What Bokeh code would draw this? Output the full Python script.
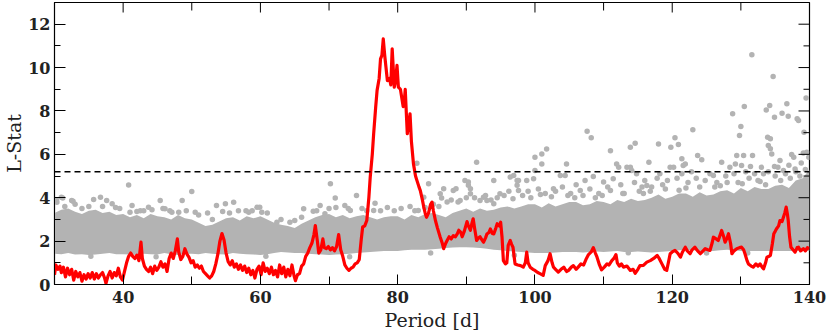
import math
from bokeh.plotting import figure
from bokeh.models import Range1d, FixedTicker, Span
from bokeh.embed import file_html
from bokeh.resources import INLINE

# ---------------- data ----------------
# red curve: Period [d] vs L-Stat
red_x = [30.0, 30.2, 30.5, 30.8, 31.0, 31.3, 31.6, 31.9, 32.2, 32.5, 32.8, 33.1, 33.4, 33.7, 34.0, 34.3, 34.6, 34.9,
         35.2, 35.5, 35.8, 36.1, 36.4, 36.7, 37.0, 37.3, 37.5, 37.8, 38.1, 38.4, 38.7, 39.0, 39.3, 39.6, 39.9, 40.2,
         40.5, 40.8, 41.1, 41.4, 41.7, 42.0, 42.3, 42.6, 42.8, 43.1, 43.4, 43.7, 44.0, 44.3, 44.6, 44.9, 45.2, 45.5,
         45.8, 46.1, 46.4, 46.7, 47.0, 47.3, 47.6, 47.9, 48.1, 48.4, 48.7, 49.0, 49.3, 49.6, 49.9, 50.2, 50.5, 50.8,
         51.1, 51.4, 51.7, 52.0, 52.3, 52.6, 52.9, 53.2, 53.5, 53.8, 54.1, 54.4, 54.7, 55.0, 55.3, 55.6, 55.9, 56.2,
         56.5, 56.8, 57.1, 57.4, 57.7, 58.0, 58.3, 58.6, 58.9, 59.2, 59.5, 59.8, 60.1, 60.4, 60.7, 61.0, 61.3, 61.6,
         61.9, 62.2, 62.5, 62.8, 63.1, 63.4, 63.7, 64.0, 64.3, 64.6, 64.9, 65.1, 65.4, 65.7, 66.0, 66.3, 66.6, 66.9,
         67.2, 67.5, 67.8, 68.0, 68.3, 68.5, 68.8, 69.1, 69.3, 69.6, 69.9, 70.2, 70.5, 70.8, 71.1, 71.4, 71.7, 72.0,
         72.3, 72.6, 72.9, 73.2, 73.5, 73.8, 74.1, 74.4, 74.7, 74.9, 75.2, 75.5, 75.8, 76.0, 76.3, 76.5, 76.8, 77.0,
         77.3, 77.5, 77.7, 77.9, 78.1, 78.3, 78.5, 78.8, 79.0, 79.2, 79.4, 79.5, 79.7, 79.9, 80.1, 80.4, 80.6, 80.8,
         81.0, 81.1, 81.4, 81.6, 81.8, 82.0, 82.3, 82.6, 82.8, 83.1, 83.3, 83.6, 83.8, 84.0, 84.2, 84.5, 84.8, 85.0,
         85.2, 85.5, 85.8, 86.2, 86.5, 86.7, 87.0, 87.2, 87.5, 87.8, 88.1, 88.4, 88.7, 88.9, 89.2, 89.4, 89.7, 90.1,
         90.3, 90.6, 90.8, 91.0, 91.2, 91.5, 91.8, 92.0, 92.3, 92.5, 92.8, 93.0, 93.3, 93.5, 93.8, 94.0, 94.3, 94.5,
         94.8, 95.0, 95.2, 95.4, 95.7, 95.9, 96.1, 96.4, 96.6, 96.8, 97.0, 97.1, 97.5, 97.9, 98.3, 98.6, 98.8, 99.0,
         99.3, 99.7, 100.0, 100.4, 100.8, 101.2, 101.5, 101.9, 102.2, 102.5, 102.7, 103.0, 103.4, 103.8, 104.2, 104.6,
         104.9, 105.3, 105.6, 106.0, 106.3, 106.7, 107.1, 107.5, 107.8, 108.2, 108.5, 108.8, 109.0, 109.4, 109.7,
         110.1, 110.5, 110.8, 111.2, 111.5, 111.8, 112.0, 112.3, 112.6, 112.9, 113.4, 113.9, 114.3, 114.6, 115.0,
         115.3, 115.8, 116.3, 116.8, 117.3, 117.8, 118.1, 118.5, 118.9, 119.2, 119.5, 119.7, 120.0, 120.4, 120.8,
         121.2, 121.5, 121.9, 122.2, 122.6, 122.9, 123.3, 123.7, 124.1, 124.5, 124.8, 125.2, 125.5, 125.8, 126.0,
         126.4, 126.7, 127.0, 127.2, 127.5, 127.7, 128.0, 128.2, 128.5, 128.7, 129.0, 129.4, 129.8, 130.1, 130.4,
         130.6, 130.9, 131.1, 131.5, 131.8, 132.2, 132.5, 132.8, 133.1, 133.3, 133.6, 133.8, 134.1, 134.3, 134.6,
         134.8, 135.0, 135.2, 135.5, 135.7, 136.0, 136.2, 136.4, 136.6, 136.8, 136.9, 137.1, 137.3, 137.6, 137.9,
         138.2, 138.4, 138.7, 139.1, 139.4, 139.7, 140.0]
red_y = [0.45, 0.9, 0.7, 0.85, 0.55, 0.8, 0.35, 0.75, 0.45, 0.7, 0.2, 0.6, 0.35, 0.55, 0.15, 0.45, 0.25, 0.5,
         0.3, 0.55, 0.25, 0.5, 0.3, 0.45, 0.55, 0.3, 0.05, 0.4, 0.6, 0.3, 0.55, 0.4, 0.75, 0.35, 0.2, 0.6,
         1.0, 1.3, 1.45, 1.3, 1.2, 1.35, 1.1, 1.95, 1.2, 0.85, 0.7, 0.6, 0.8, 0.5, 0.85, 0.65, 0.8, 1.05,
         0.8, 0.95, 0.6, 1.2, 1.45, 1.2, 1.55, 2.1, 1.5, 1.15, 1.3, 1.65, 1.4, 1.25, 1.0, 1.1, 0.8, 0.9,
         0.75, 0.85, 0.6, 0.5, 0.4, 0.3, 0.4, 0.6, 0.95, 1.4, 2.0, 2.35, 2.05, 1.45, 1.05, 0.9, 1.1, 0.8,
         0.95, 0.7, 0.9, 0.65, 0.85, 0.55, 0.75, 0.45, 0.65, 0.3, 0.7, 0.85, 0.45, 1.0, 0.6, 0.75, 0.5, 0.8,
         0.45, 0.65, 0.35, 0.9, 0.5, 0.8, 0.35, 0.7, 0.4, 0.9, 0.4, 0.18, 0.45, 0.5, 0.85, 0.95, 1.3, 1.45,
         1.7, 1.9, 2.3, 2.72, 2.0, 1.45, 1.6, 2.1, 1.7, 1.65, 1.75, 1.6, 1.7, 1.55, 1.75, 2.3, 1.6, 1.3,
         0.9, 0.75, 0.65, 0.75, 0.8, 0.95, 1.0, 1.15, 2.1, 2.65, 2.7, 2.95, 4.0, 4.95, 6.0, 6.95, 8.2, 8.95,
         9.5, 10.4, 10.56, 11.32, 10.6, 10.0, 9.4, 9.5, 9.2, 10.86, 9.7, 9.1, 9.4, 10.1, 9.1, 9.0, 8.6, 8.2,
         8.6, 9.0, 6.95, 7.4, 7.87, 6.6, 5.56, 5.0, 4.8, 4.5, 4.33, 3.9, 3.57, 3.3, 3.1, 3.3, 3.7, 3.8,
         3.4, 2.95, 2.6, 2.18, 1.9, 1.65, 1.9, 2.03, 2.2, 2.1, 2.25, 2.2, 2.35, 2.5, 2.4, 2.2, 2.45, 2.9,
         2.7, 2.5, 2.8, 3.03, 2.6, 2.03, 2.15, 2.2, 2.05, 1.95, 2.15, 2.33, 2.4, 2.56, 2.35, 2.33, 2.6, 2.8,
         2.7, 2.87, 2.2, 1.1, 0.95, 1.0, 1.8, 2.03, 1.85, 1.72, 1.2, 0.95, 0.9, 0.87, 0.8, 1.0, 1.49, 1.0,
         0.8, 0.7, 0.65, 0.55, 0.49, 0.42, 0.87, 1.1, 1.42, 1.0, 0.8, 0.7, 0.57, 0.7, 0.8, 0.6,
         0.65, 0.8, 0.87, 0.7, 0.8, 0.95, 0.9, 1.2, 1.38, 1.5, 1.7, 1.45, 1.3, 0.9, 0.68,
         0.8, 0.95, 0.9, 1.1, 1.2, 1.38, 1.0, 0.85, 0.95, 0.8, 0.85, 0.65, 0.7, 0.52, 0.7,
         0.87, 0.88, 1.03, 1.1, 1.2, 1.34, 1.2, 0.95, 0.7, 0.65, 1.1, 1.42, 1.5, 1.57, 1.45,
         1.26, 1.5, 1.72, 1.55, 1.42, 1.6, 1.72, 1.55, 1.42, 1.55, 1.65, 1.6, 1.57, 1.9, 2.18,
         2.1, 2.03, 2.3, 2.49, 2.2, 1.95, 2.15, 2.34, 1.9, 1.42, 1.55, 1.65, 1.7, 1.72, 1.6,
         1.42, 1.1, 0.95, 0.85, 0.8, 0.95, 0.85, 0.95, 0.8, 0.72, 1.0, 1.26, 1.3, 1.34, 1.9,
         2.34, 2.45, 2.57, 2.7, 2.95, 2.9, 3.1, 3.3, 3.57, 3.2, 2.95, 2.2, 1.72, 1.6, 1.49,
         1.7, 1.72, 1.55, 1.65, 1.55, 1.7, 1.65]

# dense grey cloud: lower / upper edge of the solid core
band_x = [30, 31, 32, 33, 34, 35, 36, 37, 38, 39, 40, 41, 42, 43, 44, 45, 46, 47, 48, 49, 50, 51, 52, 53, 54, 55,
          56, 57, 58, 59, 60, 61, 62, 63, 64, 65, 66, 67, 68, 69, 70, 71, 72, 73, 74, 75, 76, 77, 78, 79, 80, 81,
          82, 83, 84, 85, 86, 87, 88, 89, 90, 91, 92, 93, 94, 95, 96, 97, 98, 99, 100, 101, 102, 103, 104, 105,
          106, 107, 108, 109, 110, 111, 112, 113, 114, 115, 116, 117, 118, 119, 120, 121, 122, 123, 124, 125, 126,
          127, 128, 129, 130, 131, 132, 133, 134, 135, 136, 137, 138, 139, 140]
band_hi = [3.3, 3.45, 3.5, 3.35, 3.25, 3.4, 3.45, 3.3, 3.35, 3.2, 3.25, 3.1, 3.2, 3.05, 3.25, 3.15, 3.1, 3.0,
           3.2, 3.05, 3.0, 2.85, 2.7, 2.75, 2.9, 3.05, 3.1, 2.95, 3.15, 3.05, 3.15, 3.0, 2.85, 2.75, 2.7, 2.6,
           2.8, 2.95, 3.1, 3.2, 3.25, 3.1, 3.2, 3.05, 3.15, 3.2, 3.1, 3.0, 3.1, 3.15, 3.15, 3.0, 3.2, 3.1, 3.25,
           3.3, 3.2, 3.1, 3.3, 3.4, 3.5, 3.35, 3.5, 3.4, 3.45, 3.55, 3.6, 3.5, 3.6, 3.7, 3.7, 3.55, 3.75, 3.6,
           3.7, 3.8, 3.8, 3.65, 3.7, 3.85, 3.8, 3.7, 3.9, 3.8, 3.95, 3.85, 3.9, 4.0, 4.15, 3.95, 4.05, 4.2, 4.2,
           4.05, 4.25, 4.1, 4.15, 4.3, 4.35, 4.2, 4.45, 4.3, 4.5, 4.4, 4.4, 4.55, 4.6, 4.45, 4.8, 4.9, 5.3]
band_lo = [1.42, 1.4, 1.45, 1.38, 1.4, 1.36, 1.38, 1.42, 1.45, 1.4, 1.4, 1.38, 1.36, 1.42, 1.4, 1.38, 1.45, 1.4,
           1.36, 1.42, 1.42, 1.4, 1.45, 1.42, 1.4, 1.38, 1.45, 1.42, 1.4, 1.38, 1.36, 1.4, 1.45, 1.5, 1.48, 1.45,
           1.45, 1.42, 1.4, 1.38, 1.36, 1.38, 1.4, 1.42, 1.45, 1.48, 1.5, 1.52, 1.55, 1.55, 1.55, 1.58, 1.6, 1.6,
           1.6, 1.62, 1.65, 1.68, 1.7, 1.72, 1.72, 1.7, 1.68, 1.65, 1.6, 1.58, 1.55, 1.52, 1.5, 1.48, 1.45, 1.45,
           1.45, 1.48, 1.5, 1.5, 1.5, 1.48, 1.5, 1.52, 1.5, 1.52, 1.55, 1.5, 1.5, 1.52, 1.5, 1.48, 1.5, 1.52,
           1.55, 1.58, 1.6, 1.58, 1.55, 1.55, 1.55, 1.58, 1.6, 1.58, 1.55, 1.55, 1.55, 1.55, 1.55, 1.55, 1.55,
           1.55, 1.55, 1.55, 1.55]

# individual grey points outside the solid core
pts_x = [30.35, 30.3, 31.0, 31.2, 32.5, 32.7, 35.7, 36.7, 37.6, 38.4, 40.8, 41.3, 42.5, 41.0, 42.0, 43.7, 45.4,
         45.8, 46.1, 47.1, 48.1, 48.6, 50.0, 50.5, 52.3, 53.6, 54.5, 54.9, 56.1, 57.9, 58.3, 59.5, 59.9, 60.2,
         62.4, 64.3, 66.3, 67.7, 68.7, 69.4, 70.2, 70.9, 72.3, 73.1, 74.0, 76.5, 76.7, 82.8, 83.0, 83.8, 84.5,
         86.2, 86.4, 86.7, 87.2, 88.1, 88.5, 89.1, 89.8, 90.3, 90.3, 90.6, 90.6, 91.5, 92.0, 92.5, 93.0, 94.0,
         94.0, 94.9, 96.4, 96.9, 97.4, 97.4, 97.6, 97.6, 98.8, 99.8, 100.0, 100.0, 101.0, 101.0, 101.7, 102.7,
         103.7, 104.4, 104.6, 106.6, 107.3, 107.6, 108.2, 108.5, 110.0, 111.0, 111.0, 111.4, 111.9, 112.2, 113.4,
         113.9, 113.9, 114.1, 114.6, 114.8, 115.6, 116.3, 116.6, 118.0, 118.2, 119.7, 119.8, 120.2, 120.4, 120.9,
         121.4, 121.4, 121.6, 121.9, 123.0, 123.7, 124.3, 126.0, 127.2, 128.4, 128.8, 129.2, 129.4, 129.8, 130.0,
         130.1, 130.4, 130.5, 131.4, 131.6, 131.7, 133.3, 133.7, 133.9, 134.0, 134.2, 134.3, 134.3, 134.5, 134.7,
         134.9, 134.9, 135.7, 136.0, 136.2, 136.7, 136.9, 137.4, 137.7, 137.9, 138.2, 138.4, 139.1, 139.2, 139.5,
         139.6, 139.9,
         95.5, 96.2, 98.2, 99.0, 100.5, 101.5, 103.0, 104.0, 105.2, 106.0, 107.0, 108.0, 109.3, 110.6, 112.5,
         113.0, 114.5, 115.2, 116.0, 117.0, 117.8, 118.6, 119.3, 120.7, 122.3, 122.8, 123.5, 124.8, 125.5, 126.5,
         127.8, 128.0, 129.0, 130.7, 131.2, 132.0, 132.5, 133.0, 134.0, 135.0, 135.4, 136.5, 137.0, 138.0, 138.8,
         139.4,
         31.5, 33.0, 34.0, 35.0, 37.0, 38.9, 39.5, 43.0, 44.2, 46.8, 49.2, 51.0, 53.0, 55.5, 56.8, 58.8, 61.0,
         63.0, 65.0, 66.0, 68.2, 70.0, 71.0, 72.8, 74.8, 75.5, 77.5, 78.5, 79.5, 80.5, 81.8, 82.5, 84.0, 85.2,
         86.0, 87.8, 88.8, 90.0, 91.2, 92.8, 93.6, 94.5,
         35.3, 44.8, 60.8, 73.0, 84.8, 97.0, 113.6, 125.0, 131.0,
         96.8, 99.4, 102.4, 105.8, 109.8, 112.8, 116.8, 119.0, 122.0, 124.0, 127.0, 129.6, 132.8, 135.8, 138.6,
         100.8, 104.8, 108.8, 115.8, 121.0, 126.2, 130.2, 133.6, 137.2]
pts_y = [3.79, 3.9, 4.02, 3.99, 3.87, 3.84, 3.92, 4.02, 3.87, 3.72, 4.59, 3.64, 3.4, 3.33, 3.36, 3.56, 3.87,
         3.5, 3.49, 3.33, 3.33, 3.87, 4.29, 3.33, 3.3, 3.64, 3.36, 3.72, 3.79, 3.4, 3.33, 3.56, 3.56, 3.33,
         2.87, 2.87, 3.49, 3.38, 3.64, 3.26, 4.64, 3.99, 3.64, 3.41, 4.1, 3.41, 3.75, 5.59, 3.41, 4.02, 4.64,
         4.18, 3.99, 4.41, 3.8, 4.33, 4.41, 3.87, 4.8, 4.57, 4.72, 4.18, 4.41, 5.64, 3.87, 4.02, 3.87, 4.8,
         3.72, 4.18, 4.95, 5.03, 4.57, 4.79, 4.33, 4.8, 4.8, 4.87, 5.26, 5.87, 5.56, 6.02, 6.25, 4.41,
         5.02, 5.02, 5.56, 4.33, 4.79, 7.07, 6.76, 4.98, 4.72, 4.33, 6.17, 4.87, 5.56, 5.41, 5.41,
         5.41, 6.33, 5.25, 6.51, 5.1, 4.49, 4.56, 5.64, 6.48, 5.1, 5.41, 6.33, 5.41, 6.76, 6.45,
         5.1, 5.8, 5.49, 5.56, 7.13, 5.95, 5.75, 5.03, 5.64, 5.41, 7.87, 5.56, 5.95, 6.87, 7.28,
         5.49, 5.95, 8.2, 5.44, 10.59, 5.95, 5.1, 8.05, 6.79, 6.41, 8.25, 6.72, 6.26, 6.02, 9.59,
         7.71, 5.44, 5.72, 7.9, 5.26, 8.33, 7.76, 5.99, 5.87, 5.33, 7.64, 7.56, 6.06, 7.02, 8.6,
         6.1, 5.87,
         4.1, 4.3, 4.1, 4.3, 4.4, 4.2, 4.3, 4.5, 4.2, 4.6, 4.1, 4.4, 4.2, 4.5, 4.6,
         4.2, 4.7, 4.3, 4.8, 4.5, 4.9, 4.6, 4.8, 4.9, 4.7, 5.2, 4.9, 4.8, 5.1, 4.7,
         5.0, 4.7, 5.1, 5.2, 4.9, 5.1, 4.8, 5.4, 5.2, 5.0, 5.4, 5.1, 5.5, 5.2, 5.6,
         5.3,
         3.6, 3.7, 3.5, 3.6, 3.6, 3.55, 3.5, 3.4, 3.45, 3.4, 3.4, 3.2, 3.0, 3.3, 3.4, 3.4, 3.3,
         3.0, 2.95, 3.1, 3.4, 3.5, 3.55, 3.5, 3.5, 3.4, 3.4, 3.55, 3.4, 3.5, 3.6, 3.4, 3.55, 3.7,
         3.6, 3.9, 3.8, 4.0, 4.0, 4.1, 3.9, 4.0,
         1.3, 1.28, 1.3, 1.28, 1.45, 1.35, 1.46, 1.45, 1.45,
         3.95, 4.0, 4.05, 4.0, 4.1, 4.2, 4.3, 4.4, 4.45, 4.5, 4.55, 4.7, 4.75, 4.8, 5.0,
         4.15, 4.1, 4.0, 4.2, 4.35, 4.5, 4.65, 4.6, 4.9]

threshold = 5.2

x_lim = (30, 140)
y_lim = (0, 13)
x_major = [40, 60, 80, 100, 120, 140]
x_minor = [30, 50, 70, 90, 110, 130]
y_major = [0, 2, 4, 6, 8, 10, 12]
y_minor = [1, 3, 5, 7, 9, 11, 13]
x_title = "Period [d]"
y_title = "L-Stat"

# ---------------- figure ----------------
GREY = "#b3b3b3"
FONT = "DejaVu Serif"

p = figure(width=830, height=336, x_range=Range1d(*x_lim), y_range=Range1d(*y_lim),
           output_backend="svg", toolbar_location=None,
           min_border_left=54, min_border_right=21, min_border_top=2, min_border_bottom=52)
p.xgrid.visible = False
p.ygrid.visible = False
p.outline_line_color = "black"
p.outline_line_width = 1.2
p.background_fill_color = "white"
p.border_fill_color = "white"

p.varea(x=band_x, y1=band_lo, y2=band_hi, fill_color=GREY)
p.scatter(x=pts_x, y=pts_y, size=5.5, fill_color=GREY, line_color=None)

p.add_layout(Span(location=threshold, dimension="width", line_color="black",
                  line_width=1.5, line_dash="6 4"))

p.line(x=red_x, y=red_y, line_color="#ff0000", line_width=3.2, line_join="round")

# mirrored inward ticks on the top and right edges of the frame
p.ray(x=x_major + x_minor, y=[y_lim[1]] * (len(x_major) + len(x_minor)),
      length=[10] * len(x_major) + [8] * len(x_minor), angle=-math.pi / 2,
      length_units="screen", line_color="black", line_width=1)
p.ray(x=[x_lim[1]] * (len(y_major) + len(y_minor)), y=y_major + y_minor,
      length=[11] * len(y_major) + [6] * len(y_minor), angle=math.pi,
      length_units="screen", line_color="black", line_width=1)


def style_axis(ax, major, minor, tin, min_in):
    ax.ticker = FixedTicker(ticks=major, minor_ticks=minor)
    ax.major_tick_in = tin
    ax.major_tick_out = 0
    ax.minor_tick_in = min_in
    ax.minor_tick_out = 0
    ax.axis_line_color = "black"
    ax.major_tick_line_color = "black"
    ax.minor_tick_line_color = "black"
    ax.major_label_text_font = FONT
    ax.major_label_text_font_size = "16px"
    ax.major_label_text_font_style = "bold"
    ax.major_label_text_color = "#222222"
    ax.axis_label_text_font = FONT
    ax.axis_label_text_font_size = "19px"
    ax.axis_label_text_font_style = "normal"
    ax.axis_label_text_color = "#222222"


xa = p.xaxis[0]
style_axis(xa, x_major, x_minor, 10, 8)
xa.axis_label = x_title
xa.major_label_standoff = 6
xa.axis_label_standoff = 3

ya = p.yaxis[0]
style_axis(ya, y_major, y_minor, 11, 6)
ya.axis_label = y_title
ya.major_label_standoff = 4
ya.axis_label_standoff = 0

open("out.html", "w").write(file_html(p, INLINE))
